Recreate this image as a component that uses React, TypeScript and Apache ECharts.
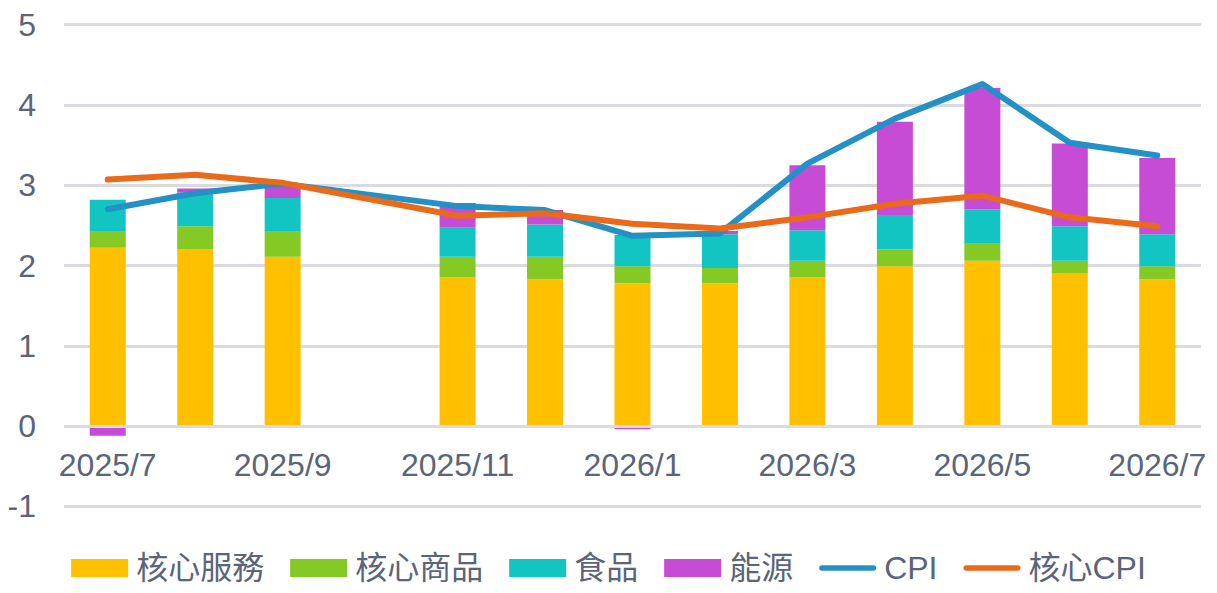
import React, { useEffect, useRef } from "react";
import * as echarts from "echarts";

const months = ["2025/7", "2025/8", "2025/9", "2025/10", "2025/11", "2025/12", "2026/1", "2026/2", "2026/3", "2026/4", "2026/5", "2026/6", "2026/7"];
const coreServices = [2.22, 2.2, 2.11, null, 1.85, 1.83, 1.78, 1.78, 1.85, 1.99, 2.06, 1.9, 1.83];
const coreGoods = [0.21, 0.29, 0.31, null, 0.26, 0.28, 0.21, 0.19, 0.21, 0.21, 0.21, 0.16, 0.16];
const food = [0.39, 0.42, 0.42, null, 0.36, 0.4, 0.39, 0.42, 0.38, 0.43, 0.43, 0.43, 0.4];
const energy = [-0.12, 0.05, 0.17, null, 0.31, 0.18, -0.04, 0.04, 0.81, 1.16, 1.51, 1.03, 0.95];
const cpi = [2.7, 2.9, 3.02, null, 2.74, 2.69, 2.37, 2.4, 3.27, 3.83, 4.26, 3.53, 3.37];
const coreCpi = [3.07, 3.13, 3.03, null, 2.62, 2.65, 2.52, 2.46, 2.6, 2.77, 2.87, 2.6, 2.49];

const TEXT = "#5a6579";
const GRID = "#d9dbe1";
const FONT = "'Liberation Sans', Arial, 'Noto Sans CJK TC', sans-serif";
const LINE_ICON = "path://M3,0 H59 A3,3 0 0 1 59,6 H3 A3,3 0 0 1 3,0 Z";

export default function App() {
  const ref = useRef<HTMLDivElement>(null);
  useEffect(() => {
    if (!ref.current) return;
    const chart = echarts.init(ref.current, undefined, { renderer: "svg" });
    const barSeries = (name: string, data: (number | null)[], color: string) => ({
      name,
      type: "bar",
      stack: "total",
      data,
      barWidth: 36,
      itemStyle: { color },
      z: 2,
    });
    const lineSeries = (name: string, data: (number | null)[], color: string) => ({
      name,
      type: "line",
      data,
      connectNulls: true,
      symbol: "none",
      showSymbol: false,
      lineStyle: { color, width: 6, cap: "round", join: "round" },
      itemStyle: { color },
      z: 4,
    });
    const energySeries: any = barSeries("能源", energy, "#c64bd5");
    energySeries.markLine = {
      silent: true,
      symbol: "none",
      label: { show: false },
      lineStyle: { color: GRID, width: 3, type: "solid" },
      data: [{ yAxis: 0 }],
      z: 3,
    };
    chart.setOption({
      animation: false,
      textStyle: { fontFamily: FONT },
      grid: { left: 64, right: 16, top: 24.7, bottom: 86.7, containLabel: false },
      legend: {
        top: 547,
        left: "center",
        itemWidth: 57,
        itemHeight: 18,
        itemGap: 26,
        textStyle: { fontSize: 32, color: TEXT, fontFamily: FONT, padding: [0, 0, 0, 3] },
        data: [
          { name: "核心服務", icon: "rect" },
          { name: "核心商品", icon: "rect" },
          { name: "食品", icon: "rect" },
          { name: "能源", icon: "rect" },
          { name: "CPI", icon: LINE_ICON },
          { name: "核心CPI", icon: LINE_ICON },
        ],
      },
      xAxis: {
        type: "category",
        data: months,
        position: "bottom",
        axisLine: { show: false, onZero: false },
        axisTick: { show: false },
        axisLabel: { interval: 1, fontSize: 32, color: TEXT, margin: -57, fontFamily: FONT },
      },
      yAxis: {
        type: "value",
        min: -1,
        max: 5,
        interval: 1,
        axisLine: { show: false },
        axisTick: { show: false },
        axisLabel: { fontSize: 32, color: TEXT, margin: 28, fontFamily: FONT },
        splitLine: { lineStyle: { color: GRID, width: 3 } },
      },
      series: [
        barSeries("核心服務", coreServices, "#ffc000"),
        barSeries("核心商品", coreGoods, "#84c924"),
        barSeries("食品", food, "#12c5c3"),
        energySeries,
        lineSeries("CPI", cpi, "#2391c6"),
        lineSeries("核心CPI", coreCpi, "#ea6a1a"),
      ],
    });
    return () => chart.dispose();
  }, []);
  return <div ref={ref} style={{ position: "absolute", left: 0, top: 0, width: 1217, height: 593 }} />;
}
